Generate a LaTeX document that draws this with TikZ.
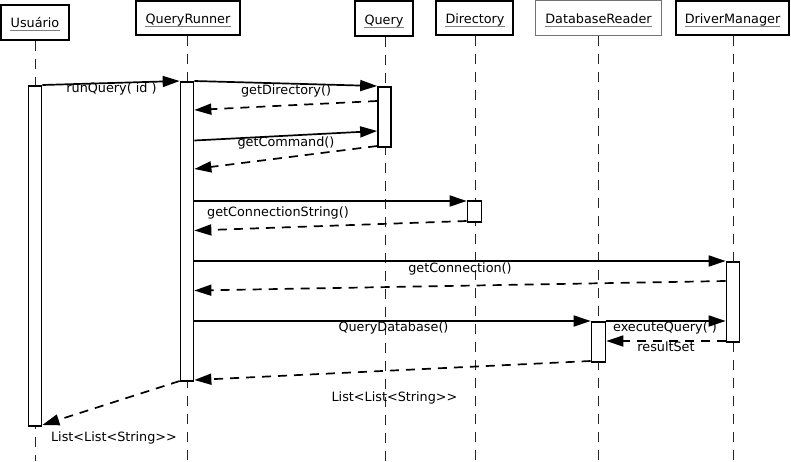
\documentclass[tikz,border=0pt]{standalone}
\usepackage{fontspec}
\setmainfont{DejaVu Sans}[Ligatures=TeXOff]
\usetikzlibrary{arrows.meta}
\begin{document}
\begin{tikzpicture}[x=1pt,y=-1pt,
  font=\fontsize{12.8}{15}\selectfont,
  hdr/.style={draw=black,line width=2pt,fill=white,inner sep=0pt},
  hdrlight/.style={draw=black!55,line width=1pt,fill=white,inner sep=0pt},
  hdrtext/.style={anchor=base,inner sep=0pt},
  uline/.style={draw=black!50,line width=1pt},
  lifeline/.style={draw=black!85,line width=1pt,dash pattern=on 10pt off 8pt},
  actbar/.style={draw=black,line width=1.7pt,fill=white,inner sep=0pt,minimum width=13pt},
  call/.style={draw=black,line width=1.7pt,-{Triangle[length=17pt,width=11pt]}},
  reply/.style={draw=black,line width=1.7pt,dash pattern=on 9pt off 7pt,
    -{Triangle[length=17pt,width=11pt]}},
  lbl/.style={anchor=base,inner sep=0pt}]
\useasboundingbox (0,0) rectangle (791,461);

% participant boxes
\node[hdr,minimum width=68pt,minimum height=35pt] (bU) at (35,22.5) {};
\node[hdr,minimum width=104pt,minimum height=34pt] (bQR) at (188,18) {};
\node[hdr,minimum width=58pt,minimum height=35pt] (bQ) at (384,18.5) {};
\node[hdr,minimum width=77pt,minimum height=34pt] (bD) at (474.5,18) {};
\node[hdrlight,minimum width=126pt,minimum height=35pt] (bDR) at (598.5,18) {};
\node[hdr,minimum width=113pt,minimum height=34pt] (bDM) at (732.5,18) {};

% participant names, underlined
\node[hdrtext] (tU) at (35,27) {Usuário};
\node[hdrtext] (tQR) at (188,23) {QueryRunner};
\node[hdrtext] (tQ) at (384,24) {Query};
\node[hdrtext] (tD) at (475,23) {Directory};
\node[hdrtext] (tDR) at (598.5,23) {DatabaseReader};
\node[hdrtext] (tDM) at (732.5,23) {DriverManager};
\foreach \t in {tU,tQR,tQ,tD,tDR,tDM}
  \draw[uline] ([yshift=-3pt]\t.base west) -- ([yshift=-3pt]\t.base east);

% lifelines
\coordinate (eU) at (35,461);
\coordinate (eQR) at (187.5,461);
\coordinate (eQ) at (385,461);
\coordinate (eD) at (475,461);
\coordinate (eDR) at (598,461);
\coordinate (eDM) at (733,461);
\draw[lifeline] (bU.south -| eU) -- (eU);
\draw[lifeline] (bQR.south -| eQR) -- (eQR);
\draw[lifeline] (bQ.south -| eQ) -- (eQ);
\draw[lifeline] (bD.south -| eD) -- (eD);
\draw[lifeline] (bDR.south -| eDR) -- (eDR);
\draw[lifeline] (bDM.south -| eDM) -- (eDM);

% activation bars
\node[actbar,anchor=north,minimum height=340pt] (aU) at (35,85) {};
\node[actbar,anchor=north,minimum height=299pt] (aQR) at (187,81) {};
\node[actbar,anchor=north,minimum height=60pt] (aQ) at (384.5,86) {};
\node[actbar,anchor=north,minimum width=14pt,minimum height=21pt] (aD) at (474.5,200) {};
\node[actbar,anchor=north,minimum height=80pt] (aDM) at (733,261) {};
\node[actbar,anchor=north,minimum width=14pt,minimum height=40pt] (aDR) at (598.5,321) {};

% message end points on the bars
\coordinate (p1a) at (aU.east |- 0,85);   \coordinate (p1b) at (aQR.west |- 0,81);
\coordinate (p2a) at (aQR.east |- 0,81);  \coordinate (p2b) at (aQ.west |- 0,86);
\coordinate (p3a) at (aQ.west |- 0,101);  \coordinate (p3b) at (aQR.east |- 0,110);
\coordinate (p4a) at (aQR.east |- 0,140.5); \coordinate (p4b) at (aQ.west |- 0,131);
\coordinate (p5a) at (aQ.west |- 0,146);  \coordinate (p5b) at (aQR.east |- 0,169);
\coordinate (p6a) at (aQR.east |- 0,201); \coordinate (p6b) at (aD.west |- 0,201);
\coordinate (p7a) at (aD.west |- 0,221);  \coordinate (p7b) at (aQR.east |- 0,230.5);
\coordinate (p8a) at (aQR.east |- 0,261); \coordinate (p8b) at (aDM.west |- 0,261);
\coordinate (p9a) at (aDM.west |- 0,281); \coordinate (p9b) at (aQR.east |- 0,290.5);
\coordinate (p10a) at (aQR.east |- 0,321); \coordinate (p10b) at (aDR.west |- 0,321);
\coordinate (p11a) at (aDR.east |- 0,321); \coordinate (p11b) at (aDM.west |- 0,321);
\coordinate (p12a) at (aDM.west |- 0,341); \coordinate (p12b) at (aDR.east |- 0,341);
\coordinate (p13a) at (aDR.west |- 0,361); \coordinate (p13b) at (aQR.east |- 0,380);
\coordinate (p14a) at (aQR.west |- 0,381); \coordinate (p14b) at (aU.east |- 0,425);

% messages
\draw[call] (p1a) -- (p1b);
\draw[call] (p2a) -- (p2b);
\draw[reply] (p3a) -- (p3b);
\draw[call] (p4a) -- (p4b);
\draw[reply] (p5a) -- (p5b);
\draw[call] (p6a) -- (p6b);
\draw[reply] (p7a) -- (p7b);
\draw[call] (p8a) -- (p8b);
\draw[reply] (p9a) -- (p9b);
\draw[call] (p10a) -- (p10b);
\draw[call] (p11a) -- (p11b);
\draw[reply] (p12a) -- (p12b);
\draw[reply] (p13a) -- (p13b);
\draw[reply] (p14a) -- (p14b);

% message labels
\node[lbl] (l1) at (111.5,92) {runQuery( id )};
\node[lbl] (l2) at (286,94) {getDirectory()};
\node[lbl] (l4) at (286,146) {getCommand()};
\node[lbl,anchor=base west] (l6) at (207,216) {getConnectionString()};
\node[lbl] (l8) at (460,272) {getConnection()};
\node[lbl] (l10) at (393.5,331) {QueryDatabase()};
\node[lbl] (l11) at (665,331) {executeQuery( )};
\node[lbl] (l12) at (666,351) {resultSet};
\node[lbl] (l13) at (394.5,401) {List<List<String>>};
\node[lbl] (l14) at (114,441) {List<List<String>>};
\end{tikzpicture}
\end{document}
